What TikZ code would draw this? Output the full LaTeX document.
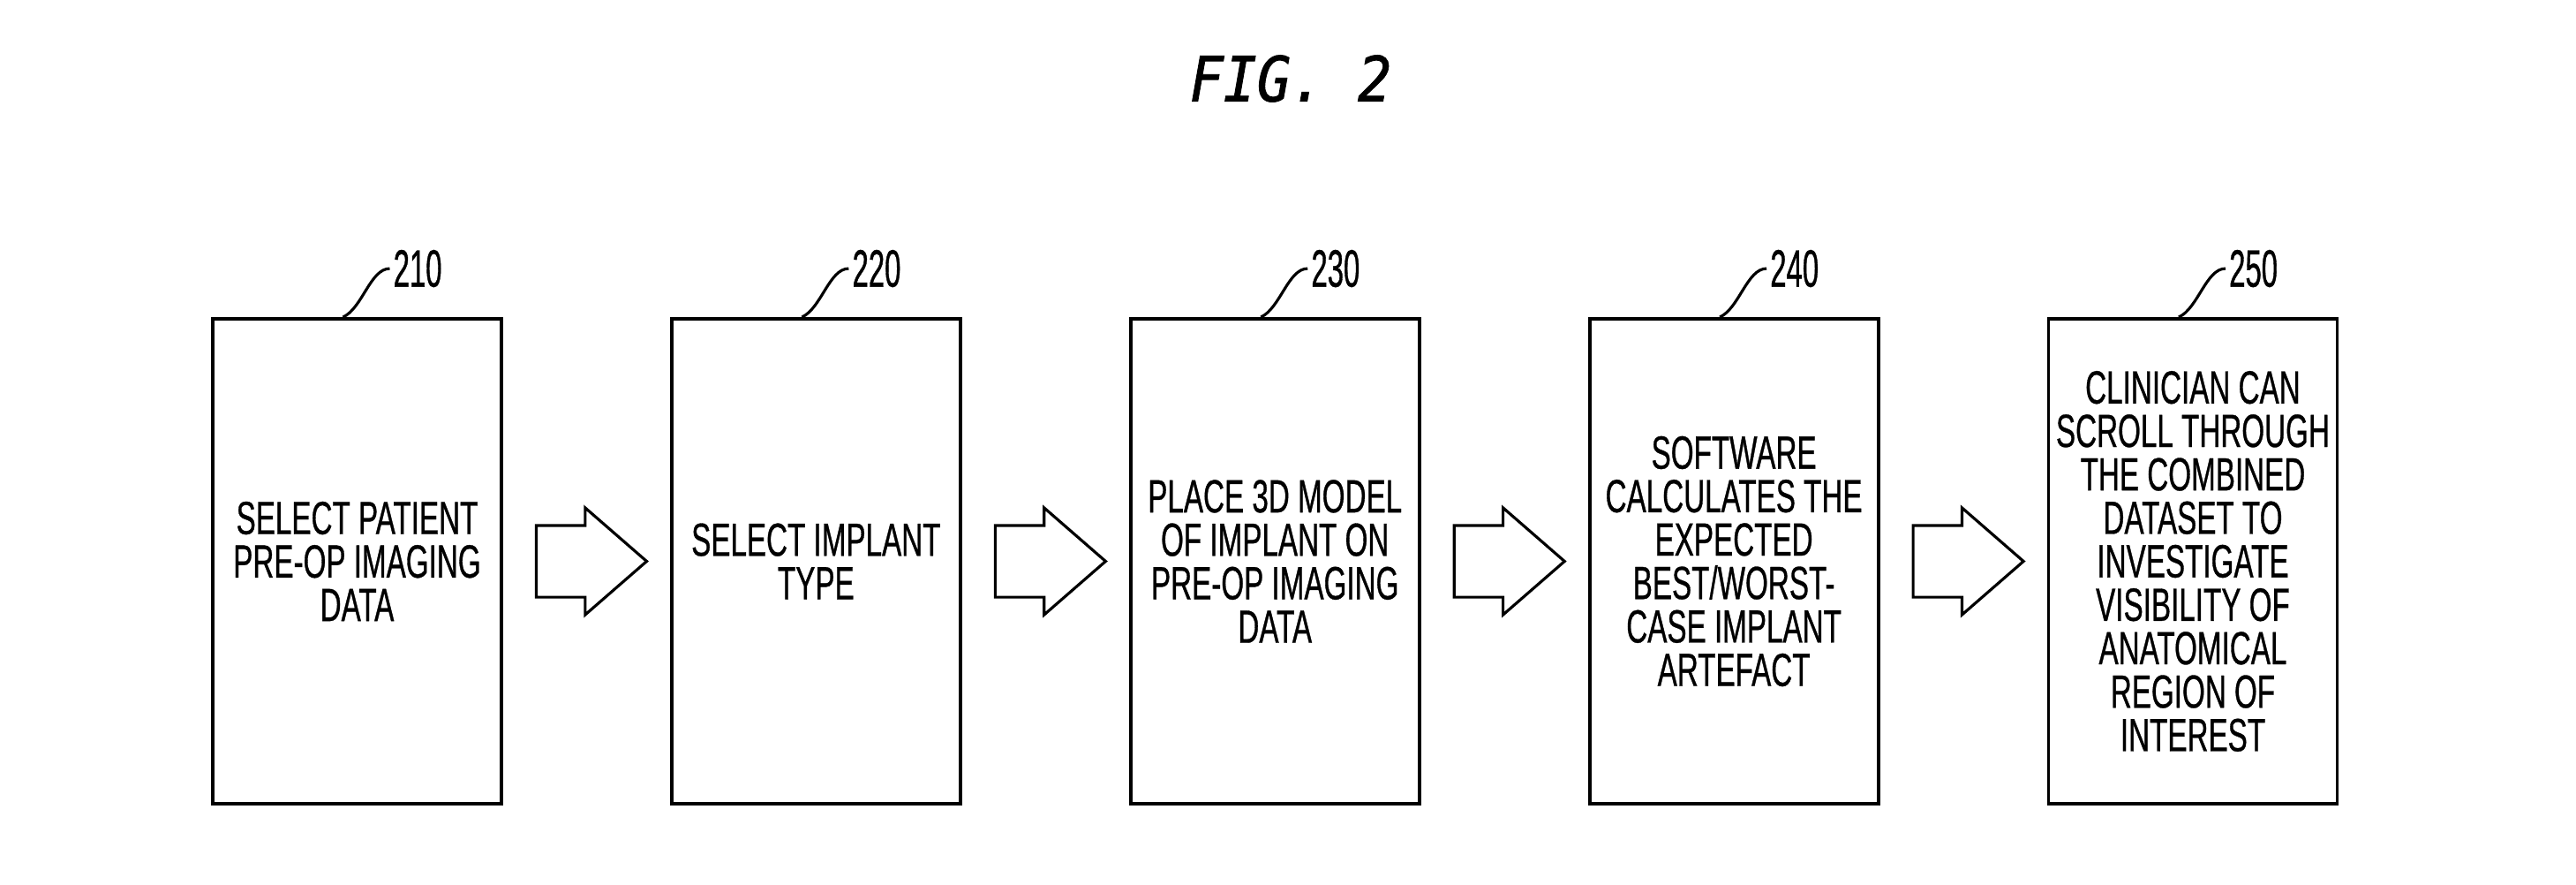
\documentclass[tikz,border=0pt]{standalone}
\usepackage{fontspec}
\setmainfont{Liberation Sans}
\newfontfamily\boxfont[FakeStretch=0.63,FakeBold=0.6]{Liberation Sans}
\newfontfamily\numfont[FakeStretch=0.55,FakeBold=0.6]{Liberation Sans}
\newfontfamily\figfont[FakeStretch=0.9,FakeBold=1.2]{DejaVu Sans Mono}
\usetikzlibrary{positioning,shapes.arrows}

\begin{document}
\begin{tikzpicture}[
  font=\boxfont\fontsize{15}{14}\selectfont,
  node distance=1.89cm,
  stepbox/.style={draw, line width=1.1pt, align=center, inner sep=2pt, minimum width=3.27cm, minimum height=5.49cm},
  blockarrow/.style={draw, line width=0.9pt, single arrow, single arrow head extend=0.2cm, single arrow tip angle=82, minimum height=1.25cm, inner xsep=0pt, inner ysep=0.39cm, anchor=tip},
  reflabel/.style={anchor=west, inner sep=1pt, font=\numfont\fontsize{17}{17}\selectfont},
  leader/.style={line width=0.9pt}
]
\useasboundingbox (0,0) rectangle (29.18,10.01);

% Title
\node[font=\figfont\itshape\fontsize{20}{20}\selectfont] (title) at (14.62,9.12) {FIG. 2};

% Main linear flow
\node[stepbox] (select) at (4.045,3.655) {SELECT PATIENT\\PRE-OP IMAGING\\DATA};
\node[stepbox, right=of select] (implant) {SELECT IMPLANT\\TYPE};
\node[stepbox, right=of implant] (place) {PLACE 3D MODEL\\OF IMPLANT ON\\PRE-OP IMAGING\\DATA};
\node[stepbox, right=of place] (calc) {SOFTWARE\\CALCULATES THE\\EXPECTED\\BEST/WORST-\\CASE IMPLANT\\ARTEFACT};
\node[stepbox, right=of calc] (scroll) {CLINICIAN CAN\\SCROLL THROUGH\\THE COMBINED\\DATASET TO\\INVESTIGATE\\VISIBILITY OF\\ANATOMICAL\\REGION OF\\INTEREST};

% Block arrows between steps
\node[blockarrow] (arrA) at ([xshift=-0.24cm]implant.west) {};
\node[blockarrow] (arrB) at ([xshift=-0.24cm]place.west) {};
\node[blockarrow] (arrC) at ([xshift=-0.24cm]calc.west) {};
\node[blockarrow] (arrD) at ([xshift=-0.24cm]scroll.west) {};

% Reference numerals
\node[reflabel] (lbl210) at ([shift={(0.37,0.55)}]select.north) {210};
\node[reflabel] (lbl220) at ([shift={(0.37,0.55)}]implant.north) {220};
\node[reflabel] (lbl230) at ([shift={(0.37,0.55)}]place.north) {230};
\node[reflabel] (lbl240) at ([shift={(0.37,0.55)}]calc.north) {240};
\node[reflabel] (lbl250) at ([shift={(0.37,0.55)}]scroll.north) {250};

\draw[leader] ([xshift=-0.16cm]select.north) .. controls +(0.22,0.1) and +(-0.22,0) .. (lbl210.west);
\draw[leader] ([xshift=-0.16cm]implant.north) .. controls +(0.22,0.1) and +(-0.22,0) .. (lbl220.west);
\draw[leader] ([xshift=-0.16cm]place.north) .. controls +(0.22,0.1) and +(-0.22,0) .. (lbl230.west);
\draw[leader] ([xshift=-0.16cm]calc.north) .. controls +(0.22,0.1) and +(-0.22,0) .. (lbl240.west);
\draw[leader] ([xshift=-0.16cm]scroll.north) .. controls +(0.22,0.1) and +(-0.22,0) .. (lbl250.west);

\end{tikzpicture}
\end{document}
